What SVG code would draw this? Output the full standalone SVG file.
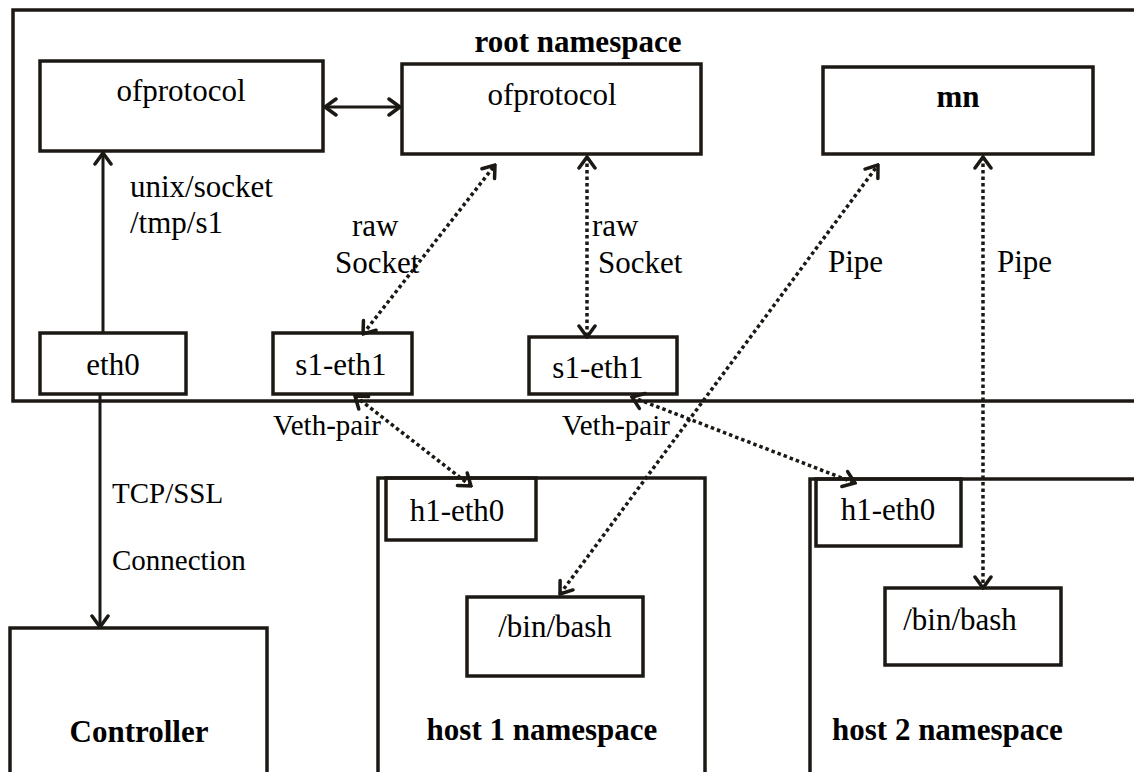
<svg xmlns="http://www.w3.org/2000/svg" width="1134" height="772" viewBox="0 0 1134 772">
  <defs>
    <style>
      .box { fill: none; stroke: #1c1914; stroke-width: 3.5; }
      .solid { fill: none; stroke: #1c1914; stroke-width: 3; }
      .dot { fill: none; stroke: #1c1914; stroke-width: 3.5; stroke-dasharray: 3.5 3; }
      text { font-family: "Liberation Serif", "Times New Roman", serif; fill: #000; font-size: 31px; }
      .b { font-weight: bold; }
      .c { text-anchor: middle; }
      .s { font-size: 29px; }
    </style>
    <marker id="arr" viewBox="-14 -10 16 20" refX="0" refY="0" markerWidth="16" markerHeight="20" markerUnits="userSpaceOnUse" orient="auto-start-reverse">
      <path d="M-11,-8 L0,0 L-11,8" fill="none" stroke="#1c1914" stroke-width="3.5" stroke-linecap="round" stroke-linejoin="miter"/>
    </marker>
  </defs>
  <rect width="1134" height="772" fill="#fff"/>

  <!-- root namespace -->
  <g id="root-namespace">
    <rect class="box" x="13" y="10" width="1140" height="391"/>
    <text class="b c" x="578" y="52">root namespace</text>
  </g>

  <g id="ofprotocol-1">
    <rect class="box" x="40" y="61" width="283" height="90"/>
    <text class="c" x="181" y="101">ofprotocol</text>
  </g>

  <g id="ofprotocol-2">
    <rect class="box" x="402" y="64" width="299" height="90"/>
    <text class="c" x="552" y="105">ofprotocol</text>
  </g>

  <g id="mn">
    <rect class="box" x="823" y="67" width="270" height="87"/>
    <text class="b c" x="958" y="107">mn</text>
  </g>

  <g id="eth0">
    <rect class="box" x="40" y="333" width="146" height="61"/>
    <text class="c" x="113" y="375">eth0</text>
  </g>

  <g id="s1-eth1-a">
    <rect class="box" x="273" y="333" width="139" height="61"/>
    <text class="c" x="341" y="375">s1-eth1</text>
  </g>

  <g id="s1-eth1-b">
    <rect class="box" x="529" y="337" width="148" height="57"/>
    <text class="c" x="598" y="378">s1-eth1</text>
  </g>

  <!-- controller -->
  <g id="controller">
    <rect class="box" x="10" y="628" width="257" height="200"/>
    <text class="b c" x="139" y="742">Controller</text>
  </g>

  <!-- host 1 namespace -->
  <g id="host1-namespace">
    <rect class="box" x="378" y="478" width="327" height="400"/>
    <text class="b c" x="542" y="740">host 1 namespace</text>
  </g>

  <g id="host1-eth0">
    <rect class="box" x="386" y="478" width="150" height="62"/>
    <text class="c" x="457" y="521">h1-eth0</text>
  </g>

  <g id="host1-bash">
    <rect class="box" x="467" y="597" width="176" height="79"/>
    <text class="c" x="555" y="637">/bin/bash</text>
  </g>

  <!-- host 2 namespace -->
  <g id="host2-namespace">
    <rect class="box" x="810" y="479" width="340" height="400"/>
    <text class="b" x="832" y="740">host 2 namespace</text>
  </g>

  <g id="host2-eth0">
    <rect class="box" x="816" y="479" width="145" height="67"/>
    <text class="c" x="888" y="520">h1-eth0</text>
  </g>

  <g id="host2-bash">
    <rect class="box" x="885" y="588" width="176" height="77"/>
    <text class="c" x="960" y="630">/bin/bash</text>
  </g>

  <!-- connectors -->
  <g id="connectors">
    <line class="solid" x1="325" y1="107" x2="400" y2="107" marker-start="url(#arr)" marker-end="url(#arr)"/>
    <line class="solid" x1="103" y1="333" x2="103" y2="153" marker-end="url(#arr)"/>
    <line class="solid" x1="100" y1="394" x2="100" y2="627" marker-end="url(#arr)"/>
    <line class="dot" x1="363" y1="334" x2="495" y2="165" marker-start="url(#arr)" marker-end="url(#arr)"/>
    <line class="dot" x1="587" y1="157" x2="587" y2="337" marker-start="url(#arr)" marker-end="url(#arr)"/>
    <line class="dot" x1="560" y1="594" x2="878" y2="165" marker-start="url(#arr)" marker-end="url(#arr)"/>
    <line class="dot" x1="983" y1="157" x2="983" y2="588" marker-start="url(#arr)" marker-end="url(#arr)"/>
    <line class="dot" x1="355" y1="396" x2="471" y2="486" marker-start="url(#arr)" marker-end="url(#arr)"/>
    <line class="dot" x1="632" y1="397" x2="855" y2="483" marker-start="url(#arr)" marker-end="url(#arr)"/>
  </g>

  <!-- connector labels -->
  <g id="labels">
    <text x="130" y="197">unix/socket</text>
    <text x="130" y="233">/tmp/s1</text>
    <text x="352" y="236">raw</text>
    <text x="335" y="273">Socket</text>
    <text x="592" y="236">raw</text>
    <text x="598" y="273">Socket</text>
    <text x="828" y="272">Pipe</text>
    <text x="997" y="272">Pipe</text>
    <text class="s" x="273" y="435">Veth-pair</text>
    <text class="s" x="562" y="435">Veth-pair</text>
    <text class="s" x="112" y="503">TCP/SSL</text>
    <text class="s" x="112" y="570">Connection</text>
  </g>
</svg>
